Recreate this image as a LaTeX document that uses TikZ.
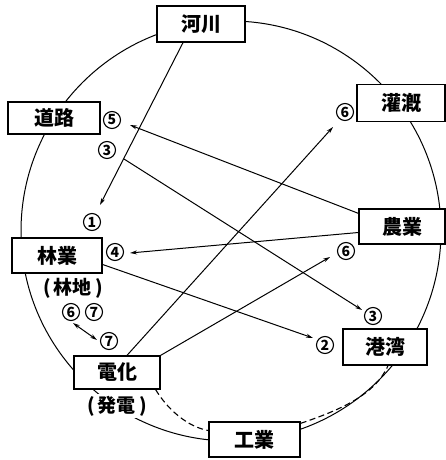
\documentclass[tikz,border=0pt]{standalone}
\usepackage{fontspec}
\setmainfont{Noto Sans CJK JP}
\usetikzlibrary{calc,arrows.meta}
\begin{document}
\begin{tikzpicture}[x=1pt,y=-1pt,
  box/.style={draw, line width=1.3pt, fill=white, inner sep=0pt, font=\fontsize{20}{20}\selectfont\bfseries},
  num/.style={circle, draw, line width=1.1pt, fill=white, inner sep=0pt, minimum size=17pt, font=\fontsize{14}{14}\selectfont\bfseries},
  lbl/.style={fill=white, inner sep=1.5pt, font=\fontsize{19}{19}\selectfont\bfseries},
  ln/.style={line width=1pt},
  arr/.style={line width=1pt, -{Stealth[length=7pt,width=4pt]}},
  darr/.style={line width=1pt, {Stealth[length=7pt,width=4pt]}-{Stealth[length=7pt,width=4pt]}},
  dsh/.style={line width=1.1pt, dash pattern=on 6pt off 3.5pt}]
\useasboundingbox (0,0) rectangle (446,460);
\fill[white] (0,0) rectangle (446,460);
% big circle
\draw[ln] (231,231) circle[radius=210pt];
% boxes
\node[box, minimum width=88pt, minimum height=36pt] (kasen) at (201,24) {河川};
\node[box, minimum width=92pt, minimum height=32pt] (doro) at (54,118) {道路};
\node[box, minimum width=88pt, minimum height=37pt] (kangai) at (401,103) {灌漑};
\node[box, minimum width=86pt, minimum height=35pt] (nogyo) at (402,226.5) {農業};
\node[box, minimum width=90pt, minimum height=35pt] (ringyo) at (57,255.5) {林業};
\node[box, minimum width=86pt, minimum height=33pt] (denka) at (117,372.5) {電化};
\node[box, minimum width=84pt, minimum height=36pt] (kowan) at (385,347) {港湾};
\node[box, minimum width=91pt, minimum height=35pt] (kogyo) at (254.5,439.5) {工業};
% sub labels
\node[lbl] (rinchi) at (73,288) {(\,林地\,)};
\node[lbl] (hatsuden) at (117,406) {(\,発電\,)};
% circled numbers
\node[num] (n1) at (92,222) {1};
\node[num] (n5) at (112,120) {5};
\node[num] (n3a) at (107,150) {3};
\node[num] (n4) at (115,252) {4};
\node[num] (n6l) at (71,312) {6};
\node[num] (n7a) at (94,312) {7};
\node[num] (n7b) at (109,341) {7};
\node[num] (n6b) at (345,112) {6};
\node[num] (n6c) at (346,251) {6};
\node[num] (n3b) at (373,316) {3};
\node[num] (n2) at (325,345) {2};
% arrow tips
\coordinate (t1) at (100,205);
\coordinate (t5) at (130,125);
\coordinate (s3) at (124,159);
\coordinate (t3) at (362,310);
\coordinate (t4) at (130,253);
\coordinate (t2) at (313,338);
\coordinate (t6b) at (333,127);
\coordinate (t6c) at (330,257);
% connectors
\draw[arr] ($(kasen.south)+(-18,0)$) -- (t1);
\draw[arr] ($(nogyo.north west)+(0,5)$) -- (t5);
\draw[arr] (s3) -- (t3);
\draw[arr] ($(nogyo.west)+(0,6)$) -- (t4);
\draw[arr] ($(ringyo.east)+(0,9)$) -- (t2);
\draw[arr] ($(denka.north)+(10,0)$) -- (t6b);
\draw[arr] (denka.north east) -- (t6c);
\draw[darr] ($(n6l)+(2,11)$) -- ($(n7b)+(-12,-1)$);
% dashed links
\draw[dsh] ($(denka.south east)+(-5,0)$) .. controls (168,410) and (188,427) .. ($(kogyo.west)+(0,-9)$);
\draw[dsh] ($(kogyo.north east)+(0,2)$) .. controls (340,410) and (375,395) .. ($(kowan.south)+(3,0)$);
\end{tikzpicture}
\end{document}
